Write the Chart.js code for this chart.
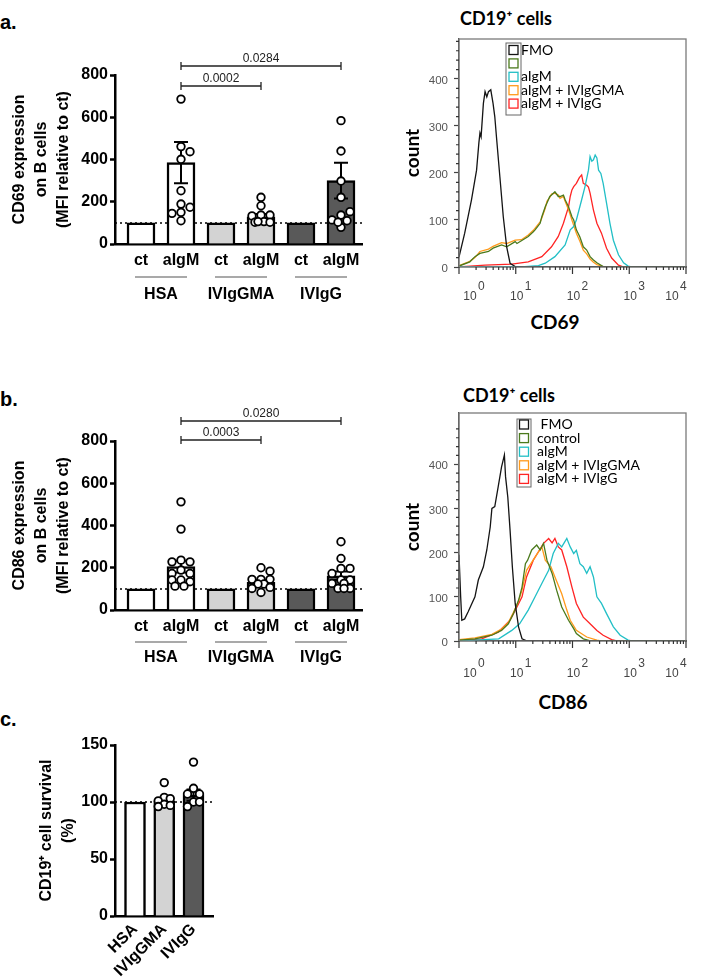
<!DOCTYPE html>
<html>
<head>
<meta charset="utf-8">
<script src="https://cdn.jsdelivr.net/npm/chart.js@4.4.1/dist/chart.umd.min.js"></script>
<style>
body { margin: 0; background: #fff; width: 709px; height: 978px; position: relative; overflow: hidden; }
canvas { position: absolute; }
.lbl { position: absolute; white-space: nowrap; line-height: 1; color: #000; }
.panel { font: bold 20px "Liberation Sans", Arial, sans-serif; }
.cal { font-family: Lato, "Open Sans", sans-serif; font-weight: bold; }
</style>
</head>
<body>
<div class="lbl panel" style="left:0;top:11px">a.</div>
<div class="lbl panel" style="left:0;top:388px">b.</div>
<div class="lbl panel" style="left:0;top:708px">c.</div>

<div class="lbl cal" style="left:460px;top:9px;font-size:18px">CD19⁺ cells</div>
<div class="lbl cal" style="left:463px;top:386px;font-size:18px">CD19⁺ cells</div>
<div class="lbl cal" style="left:505px;top:312px;width:100px;text-align:center;font-size:19px">CD69</div>
<div class="lbl cal" style="left:513px;top:692px;width:100px;text-align:center;font-size:19px">CD86</div>

<canvas id="cd69Bar" width="375" height="310" style="left:0;top:0"></canvas>
<canvas id="cd69Hist" width="329" height="340" style="left:380px;top:0"></canvas>
<canvas id="cd86Bar" width="375" height="310" style="left:0;top:366px"></canvas>
<canvas id="cd86Hist" width="329" height="340" style="left:380px;top:380px"></canvas>
<canvas id="survBar" width="240" height="278" style="left:0;top:700px"></canvas>

<script>
// ---- bar chart data ----
const barLabels = ['ct', 'aIgM', 'ct', 'aIgM', 'ct', 'aIgM'];
const groupLabels = ['HSA', 'IVIgGMA', 'IVIgG'];

const cd69Means = [100, 385, 100, 129, 100, 300];
const cd69Sem = [0, 98, 0, 13, 0, 85];
const cd69Points = [
    [],
    [686, 461, 437, 401, 252, 189, 174, 150, 145, 110],
    [],
    [221, 181, 137, 137, 133, 106, 103, 103, 106],
    [],
    [584, 440, 298, 221, 137, 153, 110, 114, 79, 103]
];
const cd69Pvals = [{ from: 1, to: 3, text: '0.0002' }, { from: 1, to: 5, text: '0.0284' }];

const cd86Means = [100, 205, 100, 131, 100, 162];
const cd86Sem = [0, 28, 0, 11, 0, 20];
const cd86Points = [
    [],
    [512, 383, 236, 228, 228, 189, 173, 173, 142, 134, 142, 113, 113],
    [],
    [200, 184, 145, 145, 145, 123, 123, 107, 102, 83],
    [],
    [323, 244, 197, 197, 173, 142, 142, 126, 126, 102, 102, 102]
];
const cd86Pvals = [{ from: 1, to: 3, text: '0.0003' }, { from: 1, to: 5, text: '0.0280' }];

const survLabels = ['HSA', 'IVIgGMA', 'IVIgG'];
const survMeans = [100, 101, 106];
const survSem = [0, 2.5, 5];
const survPoints = [
    [],
    [117, 104, 103, 101, 98, 97, 96],
    [135, 112, 107, 107, 100, 100, 96]
];

// ---- histogram data: [fluorescence, count] ----
const decadeTicks = [1, 10, 100, 1000, 10000];
const decadeExp = ['0', '1', '2', '3', '4'];

const cd69Names = ['FMO', '', 'aIgM', 'aIgM + IVIgGMA', 'aIgM + IVIgG'];
const cd69Fmo = [[1, 21], [1.26, 72], [1.66, 143], [2.04, 206], [2.24, 264], [2.34, 285], [2.45, 277], [2.69, 348],
    [2.88, 373], [3.09, 362], [3.31, 373], [3.63, 377], [3.98, 348], [4.27, 320], [4.57, 277], [5.25, 192],
    [6.03, 107], [6.92, 43], [7.94, 8], [9.77, 1], [15, 0], [10000, 0]];
const cd69Control = [[1, 2], [1.55, 11], [1.91, 22], [2.34, 29], [3.31, 33], [3.98, 40], [5.62, 47], [6.92, 43],
    [9.77, 54], [10.5, 50], [16.6, 65], [20.4, 75], [21.9, 79], [26.9, 93], [28.8, 107], [33.1, 128], [35.5, 136],
    [39.8, 150], [42.7, 153], [49, 160], [56.2, 150], [60.3, 150], [69.2, 153], [74.1, 143], [85.1, 128],
    [97.7, 107], [105, 100], [117, 79], [135, 64], [155, 43], [178, 36], [204, 22], [234, 15], [269, 9],
    [347, 1], [400, 0], [10000, 0]];
const cd69Aigm = [[1, 0], [12.6, 0], [25.1, 3], [33.1, 8], [49, 22], [74.1, 47], [91.2, 79], [105, 86], [117, 100],
    [145, 143], [166, 171], [191, 206], [204, 235], [219, 225], [234, 228], [251, 238], [269, 232], [288, 206],
    [316, 199], [347, 178], [398, 136], [457, 93], [525, 57], [646, 26], [794, 9], [955, 2], [1100, 0], [10000, 0]];
const cd69Gma = [[1, 3], [1.55, 12], [1.91, 20], [2.34, 33], [3.31, 38], [3.98, 44], [5.62, 52], [6.92, 50],
    [9.77, 57], [12.6, 58], [16.6, 68], [20.4, 78], [26.9, 96], [28.8, 104], [33.1, 125], [35.5, 140],
    [39.8, 148], [42.7, 155], [49, 157], [56.2, 153], [60.3, 146], [69.2, 150], [74.1, 140], [85.1, 122],
    [97.7, 100], [117, 72], [135, 55], [155, 36], [178, 28], [204, 17], [234, 10], [269, 5], [347, 1],
    [400, 0], [10000, 0]];
const cd69Ivig = [[1, 0], [2.88, 4], [8.51, 6], [16.6, 11], [28.8, 22], [42.7, 43], [56.2, 65], [69.2, 93],
    [85.1, 128], [91.2, 150], [97.7, 164], [105, 171], [117, 178], [132, 190], [145, 196], [155, 178],
    [178, 174], [191, 170], [204, 157], [234, 121], [269, 93], [324, 72], [398, 40], [490, 19], [646, 4],
    [800, 0], [10000, 0]];

const cd86Names = [' FMO', 'control', 'aIgM', 'aIgM + IVIgGMA', 'aIgM + IVIgG'];
const cd86Fmo = [[1, 195], [1.07, 100], [1.12, 47], [1.26, 50], [1.45, 66], [1.91, 100], [2.19, 138],
    [2.69, 168], [3.09, 206], [3.55, 258], [3.8, 300], [4.27, 304], [4.9, 349], [5.62, 394], [6.31, 421],
    [6.61, 372], [7.24, 326], [7.94, 251], [8.71, 168], [9.77, 85], [11.2, 32], [12.9, 5], [15.8, 0], [10000, 0]];
const cd86Control = [[1, 2], [1.91, 5], [3.8, 13], [5.62, 24], [7.41, 39], [9.12, 62], [11.2, 92], [12.9, 122],
    [14.8, 175], [16.2, 183], [19.1, 206], [23.4, 217], [26.9, 206], [30.9, 221], [35.5, 183], [43.7, 153],
    [52.5, 115], [64.6, 77], [85.1, 47], [105, 28], [117, 17], [155, 5], [200, 1], [250, 0], [10000, 0]];
const cd86Aigm = [[1, 0], [5.01, 5], [8.51, 24], [11.7, 39], [16.6, 70], [21.9, 100], [28.8, 130], [38, 160],
    [45.7, 198], [56.2, 221], [64.6, 213], [79.4, 232], [91.2, 213], [105, 198], [117, 205], [135, 175],
    [155, 168], [178, 153], [204, 168], [234, 145], [269, 100], [324, 85], [398, 62], [525, 32], [692, 13],
    [955, 2], [1100, 0], [10000, 0]];
const cd86Gma = [[1, 3], [1.91, 7], [3.8, 15], [5.62, 27], [7.41, 42], [9.12, 65], [11.2, 90], [12.9, 115],
    [15.5, 160], [21.9, 190], [28.8, 213], [33.1, 183], [41.7, 168], [49, 145], [64.6, 107], [79.4, 70],
    [91.2, 47], [117, 24], [178, 9], [269, 2], [320, 0], [10000, 0]];
const cd86Ivig = [[1, 0], [2.51, 5], [4.9, 20], [7.94, 47], [10.5, 77], [12.9, 100], [15.5, 145], [20.4, 183],
    [25.1, 202], [30.9, 221], [38, 232], [43.7, 222], [49, 232], [56.2, 213], [64.6, 206], [79.4, 168],
    [97.7, 122], [117, 85], [155, 54], [204, 39], [269, 24], [347, 13], [490, 3], [600, 0], [10000, 0]];

const sans = '"Liberation Sans", Arial, sans-serif';
const cal = 'Lato, "Open Sans", sans-serif';
const flowColors = ['#141414', '#4b7a1c', '#22bfc6', '#ff9a1c', '#ff2424'];

// simple beeswarm, kept inside the bar so the dots don't stack on one another
function swarm(groups, xPx, yPx, gap, maxDx) {
    const out = [];
    groups.forEach((vals, i) => {
        const placed = [];
        vals.forEach(v => {
            let best = 0, bestD = -1;
            for (let k = 0; ; k++) {
                const dx = (k % 2 ? 1 : -1) * Math.ceil(k / 2) * 3;
                if (Math.abs(dx) > maxDx) break;
                const d = placed.reduce((m, p) => Math.min(m, Math.hypot(p.dx - dx, (p.v - v) * yPx)), Infinity);
                if (d >= gap) { best = dx; break; }
                if (d > bestD) { bestD = d; best = dx; }
            }
            placed.push({ dx: best, v });
            out.push({ x: i + best / xPx, y: v });
        });
    });
    return out;
}

// dotted reference line, error bars, group labels and p-value brackets
const barExtras = {
    id: 'barExtras',
    beforeDatasetsDraw(chart, args, opts) {
        const { ctx, chartArea, scales: { y } } = chart;
        const py = y.getPixelForValue(opts.refLine);
        ctx.save();
        ctx.setLineDash([2, 3]);
        ctx.lineWidth = 1.5;
        ctx.strokeStyle = '#000';
        ctx.beginPath();
        ctx.moveTo(chartArea.left, py);
        ctx.lineTo(chartArea.right + 2, py);
        ctx.stroke();
        ctx.restore();
    },
    afterDatasetDraw(chart, args, opts) {
        if (args.index !== 0 || !opts.sem) return;
        const { ctx, scales: { x, y } } = chart;
        const means = chart.data.datasets[0].data;
        ctx.save();
        ctx.strokeStyle = '#000';
        ctx.lineWidth = 2;
        opts.sem.forEach((s, i) => {
            if (!s) return;
            const px = x.getPixelForValue(i);
            const top = y.getPixelForValue(means[i].y + s);
            const bot = y.getPixelForValue(means[i].y - s);
            ctx.beginPath();
            ctx.moveTo(px, top); ctx.lineTo(px, bot);
            ctx.moveTo(px - 7, top); ctx.lineTo(px + 7, top);
            ctx.moveTo(px - 7, bot); ctx.lineTo(px + 7, bot);
            ctx.stroke();
        });
        ctx.restore();
    },
    afterDraw(chart, args, opts) {
        const { ctx, chartArea, scales: { x } } = chart;
        ctx.save();
        if (opts.groups) {
            ctx.font = 'bold 16px ' + sans;
            ctx.textAlign = 'center';
            ctx.textBaseline = 'middle';
            ctx.fillStyle = '#000';
            ctx.strokeStyle = '#8c8c8c';
            ctx.lineWidth = 1.5;
            opts.groups.forEach((g, i) => {
                const cx = (x.getPixelForValue(2 * i) + x.getPixelForValue(2 * i + 1)) / 2;
                const ly = chartArea.bottom + opts.lineGap;
                ctx.beginPath();
                ctx.moveTo(cx - 26, ly);
                ctx.lineTo(cx + 26, ly);
                ctx.stroke();
                ctx.fillText(g, cx, chartArea.bottom + opts.textGap);
            });
        }
        if (opts.brackets) {
            ctx.font = '12px ' + sans;
            ctx.fillStyle = '#222';
            ctx.strokeStyle = '#222';
            ctx.lineWidth = 1.3;
            ctx.textAlign = 'center';
            ctx.textBaseline = 'alphabetic';
            opts.brackets.forEach((b, k) => {
                const x1 = x.getPixelForValue(b.from);
                const x2 = x.getPixelForValue(b.to);
                const by = chartArea.top + opts.bracketY[k];
                ctx.beginPath();
                ctx.moveTo(x1, by); ctx.lineTo(x2, by);
                ctx.moveTo(x1, by - 4); ctx.lineTo(x1, by + 4);
                ctx.moveTo(x2, by - 4); ctx.lineTo(x2, by + 4);
                ctx.stroke();
                ctx.fillText(b.text, (x1 + x2) / 2, by - 4);
            });
        }
        ctx.restore();
    }
};

function barChart(id, labels, means, sem, points, o) {
    return new Chart(document.getElementById(id), {
        type: 'bar',
        data: {
            datasets: [{
                data: means.map((v, i) => ({ x: i, y: v })),
                backgroundColor: o.fills,
                borderColor: '#000',
                borderWidth: 2.5,
                barThickness: o.barWidth,
                order: 1
            }, {
                type: 'scatter',
                data: swarm(points, o.xPx, o.yPx, 8, o.maxDx),
                pointRadius: 3.8,
                pointBackgroundColor: '#fff',
                pointBorderColor: '#000',
                pointBorderWidth: 1.8,
                order: 0
            }]
        },
        options: {
            responsive: false,
            animation: false,
            devicePixelRatio: 1,
            layout: { padding: o.padding },
            plugins: {
                legend: { display: false },
                tooltip: { enabled: false },
                barExtras: {
                    refLine: 100, sem: sem, groups: o.groups, lineGap: o.lineGap, textGap: o.textGap,
                    brackets: o.brackets, bracketY: o.bracketY
                }
            },
            scales: {
                x: {
                    type: 'linear', min: o.xMin, max: o.xMax, offset: false,
                    afterBuildTicks: s => { s.ticks = labels.map((_, i) => ({ value: i })); },
                    afterFit: s => { s.height = o.xHeight; },
                    grid: { display: false, drawTicks: false },
                    border: { color: '#000', width: 2.5 },
                    ticks: {
                        autoSkip: false, maxRotation: o.rot, minRotation: o.rot, padding: o.tickPad,
                        color: '#000', font: { family: sans, size: 16, weight: 'bold' },
                        callback: v => labels[v]
                    }
                },
                y: {
                    min: 0, max: o.yMax,
                    afterFit: s => { s.width = 115; },
                    grid: { drawOnChartArea: false, tickLength: 5, tickWidth: 2.5, tickColor: '#000' },
                    border: { color: '#000', width: 2.5 },
                    ticks: { stepSize: o.yStep, padding: 2, color: '#000', font: { family: sans, size: 16, weight: 'bold' } },
                    title: {
                        display: true, text: o.title, color: '#000',
                        font: { family: sans, size: 16, weight: 'bold', lineHeight: 1.375 },
                        padding: { top: o.titlePad, bottom: 0 }
                    }
                }
            }
        },
        plugins: [barExtras]
    });
}

// flow cytometry style frame, log ticks, decade labels and boxed legend
const flowAxes = {
    id: 'flowAxes',
    afterDraw(chart, args, opts) {
        const { ctx, chartArea: a, scales: { x, y } } = chart;
        ctx.save();
        ctx.strokeStyle = '#7a7a7a';
        ctx.lineWidth = 1.3;
        ctx.strokeRect(a.left, a.top, a.right - a.left, a.bottom - a.top);

        ctx.strokeStyle = '#333';
        ctx.lineWidth = 1.2;
        ctx.beginPath();
        decadeTicks.forEach((d, i) => {
            const px = x.getPixelForValue(d);
            ctx.moveTo(px, a.bottom); ctx.lineTo(px, a.bottom + 7);
            if (i === decadeTicks.length - 1) return;
            for (let m = 2; m < 10; m++) {
                const mx = x.getPixelForValue(d * m);
                ctx.moveTo(mx, a.bottom); ctx.lineTo(mx, a.bottom + 3);
            }
        });
        for (let v = 20; v <= y.max; v += 20) {
            if (v % 100 === 0) continue;
            const py = y.getPixelForValue(v);
            ctx.moveTo(a.left, py); ctx.lineTo(a.left - 3, py);
        }
        ctx.stroke();

        ctx.fillStyle = '#444';
        ctx.font = '12px ' + sans;
        ctx.textBaseline = 'alphabetic';
        decadeTicks.forEach((d, i) => {
            const shift = i === 0 ? 11 : (i === decadeTicks.length - 1 ? -14 : 1);
            const px = x.getPixelForValue(d) + shift;
            ctx.textAlign = 'center';
            ctx.fillText('10', px, a.bottom + opts.labelGap);
            ctx.textAlign = 'left';
            ctx.fillText(decadeExp[i], px + 8, a.bottom + opts.labelGap - 10);
        });

        const lg = opts.legend;
        const bx = a.left + lg.x, by = a.top + lg.y;
        ctx.strokeStyle = '#666';
        ctx.lineWidth = 1;
        ctx.strokeRect(bx, by, lg.w, lg.h);
        ctx.font = '14px ' + cal;
        ctx.textBaseline = 'middle';
        ctx.textAlign = 'left';
        chart.data.datasets.forEach((ds, i) => {
            const cy = by + lg.first + i * lg.row;
            ctx.strokeStyle = ds.borderColor;
            ctx.lineWidth = 1.3;
            ctx.strokeRect(bx + lg.sqX, cy - lg.sq / 2, lg.sq, lg.sq);
            ctx.fillStyle = '#000';
            ctx.fillText(ds.label, a.left + lg.textX, cy);
        });
        ctx.restore();
    }
};

function flowChart(id, names, series, o) {
    return new Chart(document.getElementById(id), {
        type: 'line',
        data: {
            datasets: series.map((pts, i) => ({
                label: names[i],
                data: pts.map(([x, y]) => ({ x, y })),
                borderColor: flowColors[i],
                borderWidth: 1.3,
                pointRadius: 0,
                tension: 0,
                fill: false
            }))
        },
        options: {
            responsive: false,
            animation: false,
            devicePixelRatio: 1,
            layout: { padding: o.padding },
            plugins: {
                legend: { display: false },
                tooltip: { enabled: false },
                flowAxes: { labelGap: o.labelGap, legend: o.legend }
            },
            scales: {
                x: {
                    type: 'logarithmic', min: 1, max: 10000,
                    afterBuildTicks: s => { s.ticks = decadeTicks.map(v => ({ value: v })); },
                    afterFit: s => { s.height = o.xHeight; },
                    grid: { display: false },
                    border: { color: '#333', width: 1.3 },
                    ticks: { display: false }
                },
                y: {
                    min: 0, max: o.yMax,
                    afterBuildTicks: s => { s.ticks = s.ticks.filter(t => t.value % 100 === 0); },
                    afterFit: s => { s.width = 79; },
                    grid: { drawOnChartArea: false, tickLength: 5, tickWidth: 1.2, tickColor: '#444' },
                    border: { color: '#444', width: 1.3 },
                    ticks: { stepSize: 100, padding: 6, labelOffset: 2, color: '#555', font: { family: sans, size: 11.5 } },
                    title: {
                        display: true, text: 'count', color: '#000',
                        font: { family: cal, size: 19, weight: 'bold', lineHeight: 1.2 },
                        padding: { top: 21, bottom: 0 }
                    }
                }
            }
        },
        plugins: [flowAxes]
    });
}

const pairFills = ['#ffffff', '#ffffff', '#d3d3d3', '#d3d3d3', '#595959', '#595959'];

barChart('cd69Bar', barLabels, cd69Means, cd69Sem, cd69Points, {
    fills: pairFills, barWidth: 28, xPx: 40, yPx: 169 / 800, maxDx: 11,
    padding: { left: 0, top: 75, right: 13, bottom: 0 }, xMin: -0.65, xMax: 5.525, xHeight: 66,
    rot: 0, tickPad: 7, yMax: 800, yStep: 200, titlePad: 9,
    title: ['CD69 expression', 'on B cells', '(MFI relative to ct)'],
    groups: groupLabels, lineGap: 33, textGap: 51,
    brackets: cd69Pvals, bracketY: [11, -9]
});

barChart('cd86Bar', barLabels, cd86Means, cd86Sem, cd86Points, {
    fills: pairFills, barWidth: 28, xPx: 40, yPx: 169 / 800, maxDx: 11,
    padding: { left: 0, top: 75, right: 13, bottom: 0 }, xMin: -0.65, xMax: 5.525, xHeight: 66,
    rot: 0, tickPad: 7, yMax: 800, yStep: 200, titlePad: 9,
    title: ['CD86 expression', 'on B cells', '(MFI relative to ct)'],
    groups: groupLabels, lineGap: 32, textGap: 48,
    brackets: cd86Pvals, bracketY: [-1, -20]
});

barChart('survBar', survLabels, survMeans, survSem, survPoints, {
    fills: ['#ffffff', '#d3d3d3', '#595959'], barWidth: 21, xPx: 29.25, yPx: 171 / 150, maxDx: 8,
    padding: { left: 0, top: 45, right: 27, bottom: 0 }, xMin: -0.684, xMax: 2.667, xHeight: 62,
    rot: 45, tickPad: 4, yMax: 150, yStep: 50, titlePad: 36,
    title: ['CD19⁺ cell survival', '(%)']
});

flowChart('cd69Hist', cd69Names, [cd69Fmo, cd69Control, cd69Aigm, cd69Gma, cd69Ivig], {
    padding: { left: 0, top: 39, right: 23, bottom: 0 }, xHeight: 73, yMax: 485, labelGap: 33,
    legend: { x: 47, y: 4, w: 15, h: 72, sqX: 3, sq: 9, first: 7, row: 13.4, textX: 62 }
});

flowChart('cd86Hist', cd86Names, [cd86Fmo, cd86Control, cd86Aigm, cd86Gma, cd86Ivig], {
    padding: { left: 0, top: 33, right: 23, bottom: 0 }, xHeight: 79, yMax: 516, labelGap: 36,
    legend: { x: 58, y: 6, w: 14, h: 68, sqX: 2.5, sq: 9, first: 5.5, row: 13.6, textX: 78 }
});
</script>
</body>
</html>
